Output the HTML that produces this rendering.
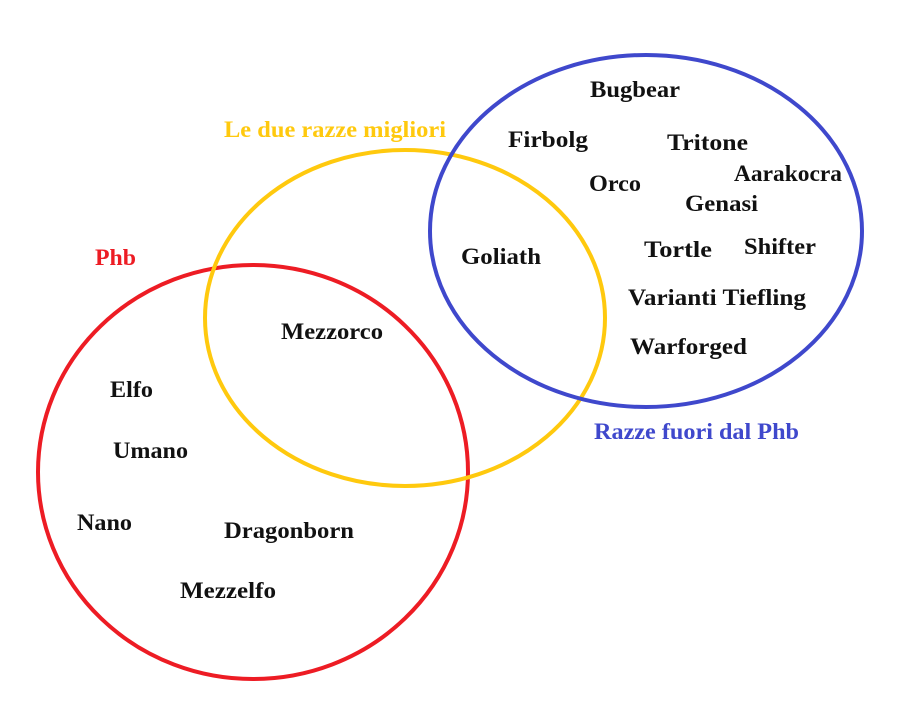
<!DOCTYPE html>
<html><head><meta charset="utf-8"><style>
html,body{margin:0;padding:0;background:#fff;}
svg{display:block;}
text{font-family:"Liberation Serif",serif;font-weight:bold;font-size:23px;fill:#111;}
</style></head><body>
<svg width="917" height="707" viewBox="0 0 917 707" xmlns="http://www.w3.org/2000/svg">
<ellipse cx="253" cy="472" rx="215" ry="207" fill="none" stroke="#ed1c24" stroke-width="4"/>
<ellipse cx="405" cy="318" rx="200" ry="168" fill="none" stroke="#ffc90e" stroke-width="4"/>
<ellipse cx="646" cy="231" rx="216" ry="176" fill="none" stroke="#3f48cc" stroke-width="4"/>
<text x="224" y="137" textLength="222" lengthAdjust="spacingAndGlyphs" style="fill:#ffc90e">Le due razze migliori</text>
<text x="95" y="265" textLength="41" lengthAdjust="spacingAndGlyphs" style="fill:#ed1c24">Phb</text>
<text x="594" y="439" textLength="205" lengthAdjust="spacingAndGlyphs" style="fill:#3f48cc">Razze fuori dal Phb</text>
<text x="590" y="97" textLength="90" lengthAdjust="spacingAndGlyphs">Bugbear</text>
<text x="508" y="147" textLength="80" lengthAdjust="spacingAndGlyphs">Firbolg</text>
<text x="667" y="150" textLength="81" lengthAdjust="spacingAndGlyphs">Tritone</text>
<text x="734" y="181" textLength="108" lengthAdjust="spacingAndGlyphs">Aarakocra</text>
<text x="589" y="191" textLength="52" lengthAdjust="spacingAndGlyphs">Orco</text>
<text x="685" y="211" textLength="73" lengthAdjust="spacingAndGlyphs">Genasi</text>
<text x="461" y="264" textLength="80" lengthAdjust="spacingAndGlyphs">Goliath</text>
<text x="644" y="257" textLength="68" lengthAdjust="spacingAndGlyphs">Tortle</text>
<text x="744" y="254" textLength="72" lengthAdjust="spacingAndGlyphs">Shifter</text>
<text x="628" y="305" textLength="178" lengthAdjust="spacingAndGlyphs">Varianti Tiefling</text>
<text x="630" y="354" textLength="117" lengthAdjust="spacingAndGlyphs">Warforged</text>
<text x="281" y="339" textLength="102" lengthAdjust="spacingAndGlyphs">Mezzorco</text>
<text x="110" y="397" textLength="43" lengthAdjust="spacingAndGlyphs">Elfo</text>
<text x="113" y="458" textLength="75" lengthAdjust="spacingAndGlyphs">Umano</text>
<text x="77" y="530" textLength="55" lengthAdjust="spacingAndGlyphs">Nano</text>
<text x="224" y="538" textLength="130" lengthAdjust="spacingAndGlyphs">Dragonborn</text>
<text x="180" y="598" textLength="96" lengthAdjust="spacingAndGlyphs">Mezzelfo</text>
</svg>
</body></html>
